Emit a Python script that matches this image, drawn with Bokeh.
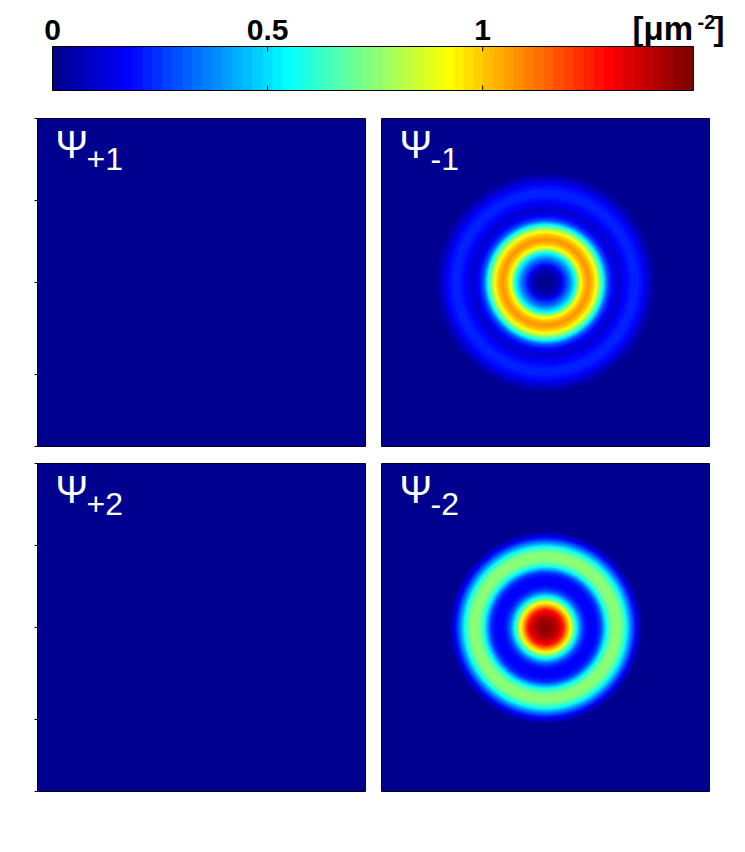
import numpy as np
from bokeh.plotting import figure
from bokeh.layouts import column, row
from bokeh.models import Range1d, LinearColorMapper, FixedTicker
from bokeh.core.properties import value
from bokeh.embed import file_html
from bokeh.resources import INLINE

# ---------------- data ----------------
cbar_ticks = [0, 0.5, 1]
cbar_tick_labels = ["0", "0.5", "1"]
cbar_inner_ticks = [0.5, 1]
cbar_max = 1.49
cbar_unit = ["[\u03bcm", "-2", "]"]

panel_names = ["+1", "-1", "+2", "-2"]
extent = [-10.0, 10.0]          # panel extent (um)
y_ticks = [10, 5, 0, -5.6, -10]

# radial density profiles (radius um, density um^-2)
r_p1 = [0, 15]
d_p1 = [0, 0]
r_p2 = [0, 15]
d_p2 = [0, 0]
r_m1 = [0, 0.49, 0.85, 1.10, 1.46, 1.83, 2.07, 2.32, 2.62, 2.93, 3.17, 3.48, 3.78,
        4.09, 4.45, 4.88, 5.37, 5.85, 6.28, 6.71, 7.32, 15]
d_m1 = [0.0, 0.03, 0.08, 0.2, 0.35, 0.56, 0.85, 1.0, 1.08, 1.0, 0.86, 0.6, 0.3,
        0.17, 0.1, 0.17, 0.23, 0.2, 0.1, 0.02, 0.0, 0.0]
r_m2 = [0, 0.37, 0.61, 0.85, 1.10, 1.34, 1.52, 1.77, 1.95, 2.20, 2.44, 2.74, 3.05,
        3.35, 3.60, 3.78, 4.02, 4.33, 4.63, 4.88, 5.12, 5.37, 5.61, 5.85, 6.10, 15]
d_m2 = [1.47, 1.44, 1.41, 1.35, 1.25, 1.05, 0.92, 0.66, 0.5, 0.3, 0.2, 0.16, 0.17,
        0.25, 0.45, 0.6, 0.72, 0.76, 0.72, 0.6, 0.42, 0.26, 0.12, 0.03, 0.0, 0.0]


# ---------------- colormap (MATLAB jet, 64 levels) ----------------
def jet(m=64):
    n = int(np.ceil(m / 4))
    u = np.concatenate([np.arange(1, n + 1) / n, np.ones(n - 1), np.arange(n, 0, -1) / n])
    g = int(np.ceil(n / 2)) - (1 if m % 4 == 1 else 0) + np.arange(1, len(u) + 1)
    r = g + n
    b = g - n
    J = np.zeros((m, 3))
    for idx, ch in ((r, 0), (g, 1), (b, 2)):
        mask = (idx >= 1) & (idx <= m)
        J[idx[mask] - 1, ch] = u[mask]
    return ["#%02x%02x%02x" % tuple(int(round(c * 255)) for c in rw) for rw in J]


palette = jet(64)
mapper = LinearColorMapper(palette=palette, low=0, high=cbar_max)

N = 328
xs = np.linspace(extent[0], extent[1], N)
X, Y = np.meshgrid(xs, xs)
R = np.sqrt(X ** 2 + Y ** 2)


def field(rr, dd):
    return np.interp(R, rr, dd)


fields = [field(r_p1, d_p1), field(r_m1, d_m1), field(r_p2, d_p2), field(r_m2, d_m2)]

FONT = "Liberation Sans"
SHIFT = 0.35   # svg text sits ~0.35em low; compensate


# ---------------- colorbar figure (whole top strip is the frame) ----------------
HW, HH = 740, 108
bar_left_px, bar_right_px = 52, 693
upx = cbar_max / (bar_right_px - bar_left_px)      # data units per pixel
cb = figure(width=HW, height=HH,
            x_range=Range1d(-bar_left_px * upx, (HW - bar_left_px) * upx),
            y_range=Range1d(0, HH),
            output_backend="svg", toolbar_location=None,
            x_axis_location=None, y_axis_location=None,
            min_border=0, min_border_left=0, min_border_right=0,
            min_border_top=0, min_border_bottom=0)
cb.outline_line_color = None
cb.grid.visible = False
bar_bottom, bar_top = HH - 90, HH - 46
levels = np.linspace(0, cbar_max, len(palette))
cb.image(image=[levels[np.newaxis, :]], x=0, y=bar_bottom, dw=cbar_max,
         dh=bar_top - bar_bottom, color_mapper=mapper)
cb.quad(left=0, right=cbar_max, bottom=bar_bottom, top=bar_top,
        fill_color=None, line_color="black", line_width=1)
cb.segment(x0=cbar_inner_ticks, x1=cbar_inner_ticks, y0=[bar_top] * 2,
           y1=[bar_top - 5] * 2, line_color="black", line_width=1)
cb.segment(x0=cbar_inner_ticks, x1=cbar_inner_ticks, y0=[bar_bottom] * 2,
           y1=[bar_bottom + 5] * 2, line_color="black", line_width=1)


def txt(p, x, y_base, s, size, color="black", bold=True, align="left"):
    p.text(x=[x], y=[y_base], text=[s], text_font=value(FONT),
           text_font_style="bold" if bold else "normal", text_font_size=f"{size}px",
           text_align=align, text_baseline="alphabetic", text_color=color)


for t, lab in zip(cbar_ticks, cbar_tick_labels):
    txt(cb, t, HH - 40 + SHIFT * 30, lab, 30, align="center")
txt(cb, (632 - bar_left_px) * upx, HH - 40 + SHIFT * 33, cbar_unit[0], 33)
txt(cb, (697 - bar_left_px) * upx, HH - 28 + SHIFT * 20, cbar_unit[1], 20)
txt(cb, (713 - bar_left_px) * upx, HH - 40 + SHIFT * 33, cbar_unit[2], 33)


# ---------------- panels ----------------
def panel(f, name, bl, br, bt, bb, yticks):
    p = figure(width=bl + 328 + br, height=bt + 328 + bb,
               x_range=Range1d(*extent), y_range=Range1d(*extent),
               output_backend="svg", toolbar_location=None,
               x_axis_location=None, y_axis_location="left" if yticks else None,
               min_border_left=bl, min_border_right=br, min_border_top=bt, min_border_bottom=bb)
    p.image(image=[f], x=extent[0], y=extent[0], dw=extent[1] - extent[0],
            dh=extent[1] - extent[0], color_mapper=mapper)
    p.grid.visible = False
    p.outline_line_color = "black"
    p.outline_line_width = 1
    if yticks:
        ya = p.yaxis[0]
        ya.ticker = FixedTicker(ticks=y_ticks)
        ya.major_label_overrides = {t: "" for t in y_ticks}
        ya.major_tick_out = 3
        ya.major_tick_in = 0
        ya.minor_tick_line_color = None
        ya.axis_line_color = "black"
    upp = (extent[1] - extent[0]) / 328.0
    txt(p, extent[0] + 18 * upp, extent[1] - (40 - SHIFT * 39) * upp, "\u03a8", 39,
        color="white", bold=False)
    txt(p, extent[0] + 49 * upp, extent[1] - (52 - SHIFT * 32) * upp, name, 32,
        color="white", bold=False)
    return p


tl = panel(fields[0], panel_names[0], 37, 8, 10, 8, True)
tr = panel(fields[1], panel_names[1], 8, 20, 10, 8, False)
bl = panel(fields[2], panel_names[2], 37, 8, 9, 10, True)
br = panel(fields[3], panel_names[3], 8, 20, 9, 10, False)

layout = column(cb, row(tl, tr), row(bl, br))

open("out.html", "w").write(file_html(layout, INLINE))
